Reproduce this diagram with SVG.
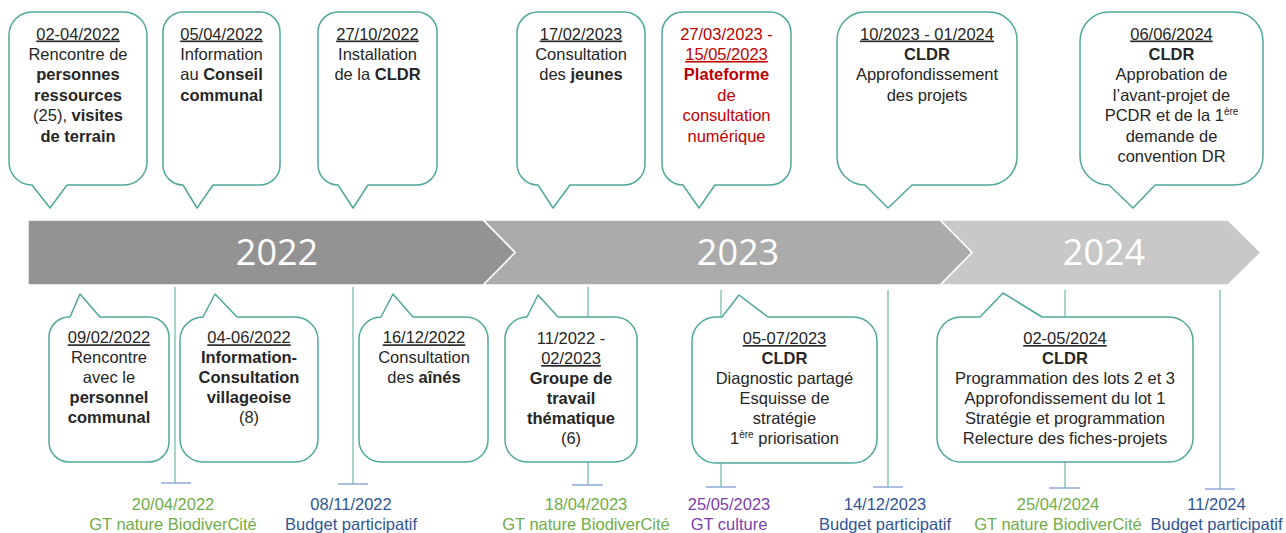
<svg xmlns="http://www.w3.org/2000/svg" width="1286" height="533" viewBox="0 0 1286 533">
<style>
.t{font-family:"Liberation Sans",Arial,sans-serif;font-size:16.5px;fill:#262626;text-anchor:middle}
.b{font-weight:bold}
.u{text-decoration:underline}
.red{fill:#c00000}
.co{fill:#fff;stroke:#4fa89b;stroke-width:1.5;stroke-linejoin:round}
.yr{font-family:"Open Sans",sans-serif;font-size:36px;fill:#fff;text-anchor:middle}
.vl{stroke:#4fa89b;stroke-width:1}
.tk{stroke:#8faadc;stroke-width:1.5}
.g{fill:#70ad47}
.bl{fill:#2f5597}
.pu{fill:#7b3fae}
.sup{font-size:10px}
</style>
<rect width="1286" height="533" fill="#fff"/>
<g id="band">
<polygon points="940,220 1228,220 1261,252.5 1228,285 940,285 972,252.5" fill="#c8c8c8" stroke="#fff" stroke-width="1.5"/>
<polygon points="483,220 940,220 972,252.5 940,285 483,285 515,252.5" fill="#ababab" stroke="#fff" stroke-width="1.5"/>
<polygon points="28,220 483,220 515,252.5 483,285 28,285" fill="#939393" stroke="#fff" stroke-width="1.5"/>
<text class="yr" x="277" y="265">2022</text>
<text class="yr" x="738" y="265">2023</text>
<text class="yr" x="1104" y="265">2024</text>
</g>
<g id="connectors">
<line class="vl" x1="175" y1="287" x2="175" y2="483"/><line class="tk" x1="161" y1="483" x2="191" y2="483"/>
<line class="vl" x1="353" y1="287" x2="353" y2="484"/><line class="tk" x1="338" y1="484" x2="368" y2="484"/>
<line class="vl" x1="588" y1="287" x2="588" y2="485"/><line class="tk" x1="572" y1="485" x2="603" y2="485"/>
<line class="vl" x1="721" y1="290" x2="721" y2="487"/><line class="tk" x1="706" y1="487" x2="736" y2="487"/>
<line class="vl" x1="888" y1="290" x2="888" y2="487"/><line class="tk" x1="873" y1="487" x2="903" y2="487"/>
<line class="vl" x1="1065" y1="290" x2="1065" y2="488"/><line class="tk" x1="1049" y1="488" x2="1080" y2="488"/>
<line class="vl" x1="1220" y1="290" x2="1220" y2="489"/><line class="tk" x1="1205" y1="489" x2="1235" y2="489"/>
</g>
<g id="t1">
<path class="co" d="M32,12 H124 A23,23 0 0 1 147,35 V162 A23,23 0 0 1 124,185 H67 L50,208 L32,185 A23,23 0 0 1 9,162 V35 A23,23 0 0 1 32,12 Z"/>
<text class="t" y="39.5"><tspan x="78" class="u">02-04/2022</tspan><tspan x="78" dy="20.4">Rencontre de</tspan><tspan x="78" dy="20.4" class="b">personnes</tspan><tspan x="78" dy="20.4" class="b">ressources</tspan><tspan x="78" dy="20.4">(25), <tspan class="b">visites</tspan></tspan><tspan x="78" dy="20.4" class="b">de terrain</tspan></text>
</g>
<g id="t2">
<path class="co" d="M183,12 H260 A20,20 0 0 1 280,32 V165 A20,20 0 0 1 260,185 H213 L197,208 L183,185 A20,20 0 0 1 163,165 V32 A20,20 0 0 1 183,12 Z"/>
<text class="t" y="39.5"><tspan x="221.5" class="u">05/04/2022</tspan><tspan x="221.5" dy="20.4">Information</tspan><tspan x="221.5" dy="20.4">au <tspan class="b">Conseil</tspan></tspan><tspan x="221.5" dy="20.4" class="b">communal</tspan></text>
</g>
<g id="t3">
<path class="co" d="M338,12 H417 A20,20 0 0 1 437,32 V165 A20,20 0 0 1 417,185 H368 L353,208 L338,185 A20,20 0 0 1 318,165 V32 A20,20 0 0 1 338,12 Z"/>
<text class="t" y="39.5"><tspan x="377.5" class="u">27/10/2022</tspan><tspan x="377.5" dy="20.4">Installation</tspan><tspan x="377.5" dy="20.4">de la <tspan class="b">CLDR</tspan></tspan></text>
</g>
<g id="t4">
<path class="co" d="M538,12 H624 A21,21 0 0 1 645,33 V164 A21,21 0 0 1 624,185 H570 L553,208 L538,185 A21,21 0 0 1 517,164 V33 A21,21 0 0 1 538,12 Z"/>
<text class="t" y="39.5"><tspan x="581" class="u">17/02/2023</tspan><tspan x="581" dy="20.4">Consultation</tspan><tspan x="581" dy="20.4">des <tspan class="b">jeunes</tspan></tspan></text>
</g>
<g id="t5">
<path class="co" d="M683,12 H770 A21,21 0 0 1 791,33 V164 A21,21 0 0 1 770,185 H715 L699,208 L683,185 A21,21 0 0 1 662,164 V33 A21,21 0 0 1 683,12 Z"/>
<text class="t red" y="39.5"><tspan x="726.5">27/03/2023 -</tspan><tspan x="726.5" dy="20.4" class="u">15/05/2023</tspan><tspan x="726.5" dy="20.4" class="b">Plateforme</tspan><tspan x="726.5" dy="20.4">de</tspan><tspan x="726.5" dy="20.4">consultation</tspan><tspan x="726.5" dy="20.4">numérique</tspan></text>
</g>
<g id="t6">
<path class="co" d="M865,12 H989 A28,28 0 0 1 1017,40 V157 A28,28 0 0 1 989,185 H912 L888,208 L865,185 A28,28 0 0 1 837,157 V40 A28,28 0 0 1 865,12 Z"/>
<text class="t" y="39.5"><tspan x="927" class="u">10/2023 - 01/2024</tspan><tspan x="927" dy="20.4" class="b">CLDR</tspan><tspan x="927" dy="20.4">Approfondissement</tspan><tspan x="927" dy="20.4">des projets</tspan></text>
</g>
<g id="t7">
<path class="co" d="M1109,12 H1234 A29,29 0 0 1 1263,41 V156 A29,29 0 0 1 1234,185 H1155 L1133,208 L1109,185 A29,29 0 0 1 1080,156 V41 A29,29 0 0 1 1109,12 Z"/>
<text class="t" y="39.5"><tspan x="1171.5" class="u">06/06/2024</tspan><tspan x="1171.5" dy="20.4" class="b">CLDR</tspan><tspan x="1171.5" dy="20.4">Approbation de</tspan><tspan x="1171.5" dy="20.4">l’avant-projet de</tspan><tspan x="1171.5" dy="20.4">PCDR et de la 1<tspan class="sup" dy="-6">ère</tspan></tspan><tspan x="1171.5" dy="26.4">demande de</tspan><tspan x="1171.5" dy="20.4">convention DR</tspan></text>
</g>
<g id="b1">
<path class="co" d="M69,317 H70 L80,294 L100,317 H149 A20,20 0 0 1 169,337 V442 A20,20 0 0 1 149,462 H69 A20,20 0 0 1 49,442 V337 A20,20 0 0 1 69,317 Z"/>
<text class="t" y="343.3"><tspan x="109" class="u">09/02/2022</tspan><tspan x="109" dy="20">Rencontre</tspan><tspan x="109" dy="20">avec le</tspan><tspan x="109" dy="20" class="b">personnel</tspan><tspan x="109" dy="20" class="b">communal</tspan></text>
</g>
<g id="b2">
<path class="co" d="M203,317 L215,294 L237,317 H295 A23,23 0 0 1 318,340 V439 A23,23 0 0 1 295,462 H203 A23,23 0 0 1 180,439 V340 A23,23 0 0 1 203,317 Z"/>
<text class="t" y="343.3"><tspan x="249" class="u">04-06/2022</tspan><tspan x="249" dy="20" class="b">Information-</tspan><tspan x="249" dy="20" class="b">Consultation</tspan><tspan x="249" dy="20" class="b">villageoise</tspan><tspan x="249" dy="20">(8)</tspan></text>
</g>
<g id="b3">
<path class="co" d="M381,317 L393,294 L413,317 H466 A22,22 0 0 1 488,339 V440 A22,22 0 0 1 466,462 H381 A22,22 0 0 1 359,440 V339 A22,22 0 0 1 381,317 Z"/>
<text class="t" y="343.3"><tspan x="424" class="u">16/12/2022</tspan><tspan x="424" dy="20">Consultation</tspan><tspan x="424" dy="20">des <tspan class="b">aînés</tspan></tspan></text>
</g>
<g id="b4">
<path class="co" d="M527,317 L538,295 L558,317 H615 A22,22 0 0 1 637,339 V440 A22,22 0 0 1 615,462 H527 A22,22 0 0 1 505,440 V339 A22,22 0 0 1 527,317 Z"/>
<text class="t" y="344"><tspan x="571">11/2022 -</tspan><tspan x="571" dy="20" class="u">02/2023</tspan><tspan x="571" dy="20" class="b">Groupe de</tspan><tspan x="571" dy="20" class="b">travail</tspan><tspan x="571" dy="20" class="b">thématique</tspan><tspan x="571" dy="20">(6)</tspan></text>
</g>
<g id="b5">
<path class="co" d="M716,317 H722 L739,295 L768,317 H853 A24,24 0 0 1 877,341 V439 A24,24 0 0 1 853,463 H716 A24,24 0 0 1 692,439 V341 A24,24 0 0 1 716,317 Z"/>
<text class="t" y="344"><tspan x="784.5" class="u">05-07/2023</tspan><tspan x="784.5" dy="20" class="b">CLDR</tspan><tspan x="784.5" dy="20">Diagnostic partagé</tspan><tspan x="784.5" dy="20">Esquisse de</tspan><tspan x="784.5" dy="20">stratégie</tspan><tspan x="784.5" dy="20">1<tspan class="sup" dy="-6">ère</tspan><tspan dy="6"> priorisation</tspan></tspan></text>
</g>
<g id="b6">
<path class="co" d="M961,317 H980 L1003,293 L1042,317 H1169 A24,24 0 0 1 1193,341 V438 A24,24 0 0 1 1169,462 H961 A24,24 0 0 1 937,438 V341 A24,24 0 0 1 961,317 Z"/>
<text class="t" y="344"><tspan x="1065" class="u">02-05/2024</tspan><tspan x="1065" dy="20" class="b">CLDR</tspan><tspan x="1065" dy="20">Programmation des lots 2 et 3</tspan><tspan x="1065" dy="20">Approfondissement du lot 1</tspan><tspan x="1065" dy="20">Stratégie et programmation</tspan><tspan x="1065" dy="20">Relecture des fiches-projets</tspan></text>
</g>
<g id="m1"><text class="t g" y="510"><tspan x="173">20/04/2022</tspan><tspan x="173" dy="20">GT nature BiodiverCité</tspan></text></g>
<g id="m2"><text class="t bl" y="510"><tspan x="351">08/11/2022</tspan><tspan x="351" dy="20">Budget participatif</tspan></text></g>
<g id="m3"><text class="t g" y="510"><tspan x="586">18/04/2023</tspan><tspan x="586" dy="20">GT nature BiodiverCité</tspan></text></g>
<g id="m4"><text class="t pu" y="510"><tspan x="729">25/05/2023</tspan><tspan x="729" dy="20">GT culture</tspan></text></g>
<g id="m5"><text class="t bl" y="510"><tspan x="885">14/12/2023</tspan><tspan x="885" dy="20">Budget participatif</tspan></text></g>
<g id="m6"><text class="t g" y="510"><tspan x="1058">25/04/2024</tspan><tspan x="1058" dy="20">GT nature BiodiverCité</tspan></text></g>
<g id="m7"><text class="t bl" y="510"><tspan x="1216.5">11/2024</tspan><tspan x="1216.5" dy="20">Budget participatif</tspan></text></g>
</svg>
